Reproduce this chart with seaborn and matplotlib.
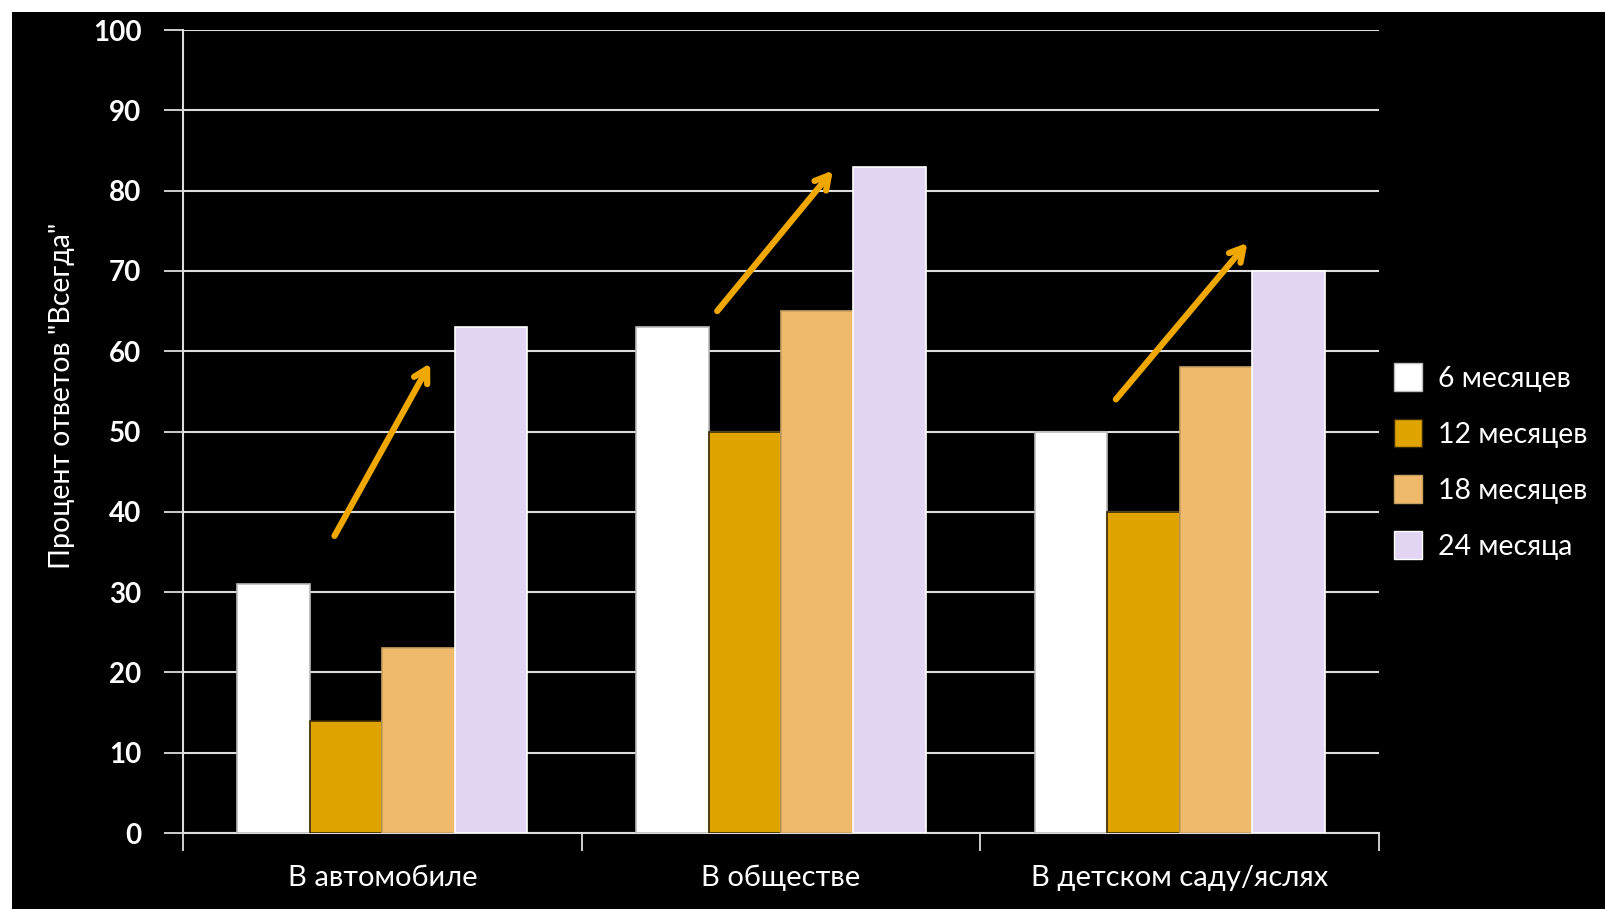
import matplotlib
matplotlib.use("Agg")
import matplotlib.pyplot as plt
from matplotlib.patches import Rectangle
from matplotlib.lines import Line2D
import numpy as np
import pandas as pd
import seaborn as sns

places = ["В автомобиле", "В обществе", "В детском саду/яслях"]
ages = ["6 месяцев", "12 месяцев", "18 месяцев", "24 месяца"]
m6 = [31, 63, 50]
m12 = [14, 50, 40]
m18 = [23, 65, 58]
m24 = [63, 83, 70]
y_ticks = [0, 10, 20, 30, 40, 50, 60, 70, 80, 90, 100]
colors = ["#FFFFFF", "#E0A400", "#F0BA6C", "#E2D5F3"]
edges = ["#BBBBBB", "#3A2A00", "#C8A060", "#FFFFFF"]
# trend arrows (start, end) in data coords
arrows = [((-0.12, 37), (0.12, 58.5)),
          ((0.84, 65), (1.13, 82.5)),
          ((1.84, 54), (2.17, 73.5))]
arrow_color = "#F0A800"

df = pd.DataFrame({
    "place": places * 4,
    "age": [a for a in ages for _ in places],
    "value": m6 + m12 + m18 + m24,
})

sns.set_theme(style="dark")
plt.rcParams["font.family"] = ["Lato", "DejaVu Sans"]

fig = plt.figure(figsize=(16.06, 9.09), dpi=100, facecolor="white")
fig.patches.append(Rectangle((12 / 1606, 0), 1, 1 - 12 / 909, transform=fig.transFigure,
                             facecolor="black", edgecolor="none", zorder=-10))
ax = fig.add_axes([183 / 1606, 76 / 909, (1379 - 183) / 1606, (833 - 30) / 909])
ax.set_facecolor("black")

sns.barplot(data=df, x="place", y="value", hue="age", hue_order=ages, order=places,
            palette=colors, saturation=1, width=0.727, ax=ax, legend=False, zorder=3)
for cont, ec in zip(ax.containers, edges):
    for bar in cont:
        bar.set_edgecolor(ec)
        bar.set_linewidth(1.2)

for (x0, y0), (x1, y1) in arrows:
    ax.annotate("", xy=(x1, y1), xytext=(x0, y0),
                arrowprops=dict(arrowstyle="->,head_length=0.8,head_width=0.45",
                                color=arrow_color, lw=4.5, shrinkA=0, shrinkB=0),
                zorder=5)

ax.set_ylim(0, 100)
ax.set_xlim(-0.5, 2.5)
ax.set_yticks(y_ticks)
ax.set_yticklabels([str(v) for v in y_ticks], fontsize=20, fontweight="bold", color="white")
ax.yaxis.grid(True, color="#DDDDDD", lw=1.5, zorder=0)
ax.xaxis.grid(False)
ax.tick_params(axis="y", length=14, width=1.3, color="#DDDDDD", pad=16, left=True)
ax.set_xticks([0, 1, 2])
ax.set_xticklabels(places, fontsize=21, color="white")
ax.set_xticks([-0.5, 0.5, 1.5, 2.5], minor=True)
ax.tick_params(axis="x", which="major", length=0, pad=23)
ax.tick_params(axis="x", which="minor", length=13, width=1.3, color="#DDDDDD", bottom=True)
for side in ["top", "right"]:
    ax.spines[side].set_visible(False)
for side in ["left", "bottom"]:
    ax.spines[side].set_visible(True)
    ax.spines[side].set_color("#DDDDDD")
    ax.spines[side].set_linewidth(1.5)
ax.set_xlabel("")
ax.set_ylabel('Процент ответов "Всегда"', fontsize=20.5, color="white")
ax.yaxis.set_label_coords(-0.09, 0.545)

handles = [Line2D([], [], marker="s", linestyle="none", markersize=20,
                  markerfacecolor=c, markeredgecolor=e, markeredgewidth=1)
           for c, e in zip(colors, edges)]
fig.legend(handles, ages, loc="center left", bbox_to_anchor=(1365 / 1606, 1 - 463 / 909),
           frameon=False, fontsize=20.5, labelcolor="white", labelspacing=1.05,
           handletextpad=0.45, handlelength=1.2)

fig.savefig("out.png", dpi=100, facecolor=fig.get_facecolor())
